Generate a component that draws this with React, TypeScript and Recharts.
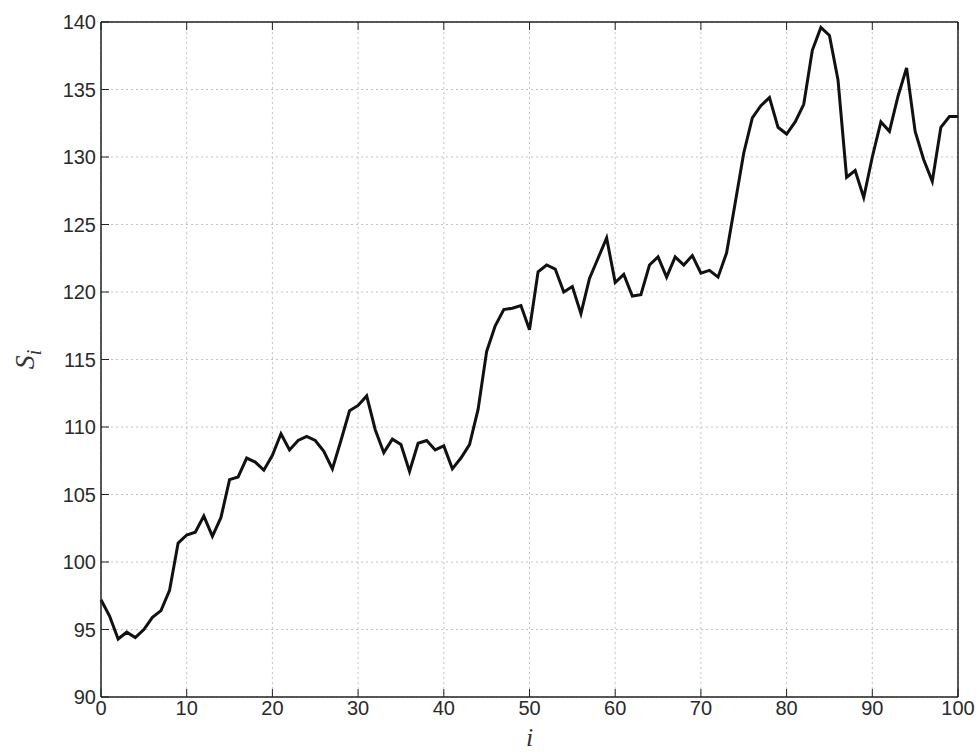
import React from 'react';
import { LineChart, Line, XAxis, YAxis, CartesianGrid } from 'recharts';

const steps: number[] = Array.from({ length: 101 }, (_, k) => k);
const prices: number[] = [
  97.2, 96.0, 94.3, 94.8, 94.4, 95.0, 95.9, 96.4, 97.9, 101.4,
  102.0, 102.2, 103.4, 101.9, 103.3, 106.1, 106.3, 107.7, 107.4, 106.8,
  107.9, 109.5, 108.3, 109.0, 109.3, 109.0, 108.2, 106.9, 109.0, 111.2,
  111.6, 112.3, 109.8, 108.1, 109.1, 108.7, 106.7, 108.8, 109.0, 108.3,
  108.6, 106.9, 107.7, 108.7, 111.3, 115.6, 117.5, 118.7, 118.8, 119.0,
  117.2, 121.5, 122.0, 121.7, 120.0, 120.4, 118.4, 121.0, 122.5, 124.0,
  120.7, 121.3, 119.7, 119.8, 122.0, 122.6, 121.1, 122.6, 122.0, 122.7,
  121.4, 121.6, 121.1, 122.9, 126.6, 130.3, 132.9, 133.8, 134.4, 132.2,
  131.7, 132.6, 133.9, 137.9, 139.6, 139.0, 135.7, 128.5, 129.0, 127.0,
  130.0, 132.6, 131.9, 134.5, 136.6, 131.9, 129.8, 128.2, 132.2, 133.0,
  133.0,
];
const xTicks: number[] = [0, 10, 20, 30, 40, 50, 60, 70, 80, 90, 100];
const yTicks: number[] = [90, 95, 100, 105, 110, 115, 120, 125, 130, 135, 140];

const data = steps.map((i, k) => ({ i, s: prices[k] }));

const tickStyle = { fontFamily: 'Liberation Sans, Arial, sans-serif', fontSize: 20, fill: '#2a2a2a' };

const YLabel = (props: any) => {
  const { viewBox } = props;
  const x = 34;
  const y = viewBox.y + viewBox.height / 2;
  return (
    <text
      x={x}
      y={y}
      transform={`rotate(-90, ${x}, ${y})`}
      textAnchor="middle"
      fontFamily="Liberation Serif, serif"
      fontStyle="italic"
      fontSize={28}
      fill="#333"
    >
      S<tspan fontSize={20} dy={7}>i</tspan>
    </text>
  );
};

const XLabel = (props: any) => {
  const { viewBox } = props;
  const x = viewBox.x + viewBox.width / 2;
  return (
    <text
      x={x}
      y={746}
      textAnchor="middle"
      fontFamily="Liberation Serif, serif"
      fontStyle="italic"
      fontSize={26}
      fill="#333"
    >
      i
    </text>
  );
};

export default function App() {
  return (
    <div style={{ position: 'absolute', left: 0, top: 0, width: 978, height: 755, background: '#fff' }}>
      <LineChart width={978} height={755} data={data} margin={{ top: 0, right: 0, bottom: 0, left: 0 }}>
        <CartesianGrid
          xAxisId="b"
          yAxisId="l"
          stroke="#c4c4c4"
          strokeDasharray="2 3"
          strokeWidth={1}
          verticalValues={xTicks}
          horizontalValues={yTicks}
        />
        <XAxis
          xAxisId="b"
          dataKey="i"
          type="number"
          domain={[0, 100]}
          ticks={xTicks}
          interval={0}
          height={58}
          tickSize={-8}
          tickMargin={12}
          axisLine={{ stroke: '#222', strokeWidth: 1.5 }}
          tickLine={{ stroke: '#222', strokeWidth: 1 }}
          tick={tickStyle}
          label={<XLabel />}
        />
        <XAxis
          xAxisId="t"
          orientation="top"
          dataKey="i"
          type="number"
          domain={[0, 100]}
          ticks={xTicks}
          interval={0}
          height={22}
          tickSize={-8}
          tickMargin={12}
          axisLine={{ stroke: '#222', strokeWidth: 1.5 }}
          tickLine={{ stroke: '#222', strokeWidth: 1 }}
          tickFormatter={() => ''}
        />
        <YAxis
          yAxisId="l"
          type="number"
          domain={[90, 140]}
          ticks={yTicks}
          interval={0}
          width={101}
          tickSize={-8}
          tickMargin={13}
          axisLine={{ stroke: '#222', strokeWidth: 1.5 }}
          tickLine={{ stroke: '#222', strokeWidth: 1 }}
          tick={tickStyle}
          label={<YLabel />}
        />
        <YAxis
          yAxisId="r"
          orientation="right"
          type="number"
          domain={[90, 140]}
          ticks={yTicks}
          interval={0}
          width={20}
          tickSize={-8}
          tickMargin={12}
          axisLine={{ stroke: '#222', strokeWidth: 1.5 }}
          tickLine={{ stroke: '#222', strokeWidth: 1 }}
          tickFormatter={() => ''}
        />
        <Line
          xAxisId="b"
          yAxisId="l"
          type="linear"
          dataKey="s"
          stroke="#111"
          strokeWidth={3}
          dot={false}
          isAnimationActive={false}
        />
      </LineChart>
    </div>
  );
}
